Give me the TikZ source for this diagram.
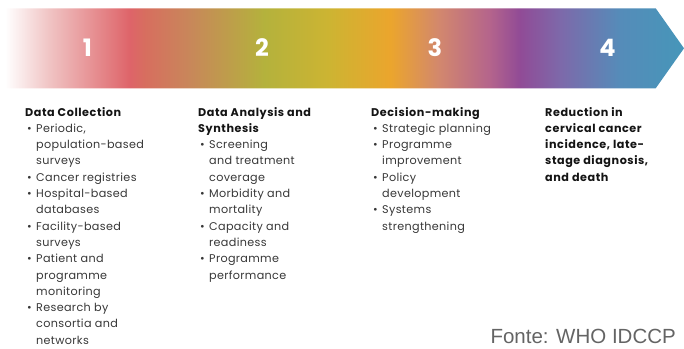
\documentclass[tikz,border=0pt]{standalone}
\usepackage{fontspec}
\setmainfont{Poppins}
\newfontfamily\bodyf[LetterSpace=3]{Poppins}
\newfontfamily\headf[LetterSpace=5]{Poppins}
\newfontfamily\arialf{Liberation Sans}
\pgfdeclarehorizontalshading{bandshade}{100bp}{%
color(0bp)=(white);
color(25bp)=(white);
color(28.3bp)=(rgb,255:red,240;green,195;blue,195);
color(34.2bp)=(rgb,255:red,222;green,100;blue,105);
color(35.3bp)=(rgb,255:red,215;green,110;blue,95);
color(38.6bp)=(rgb,255:red,200;green,135;blue,90);
color(44.1bp)=(rgb,255:red,180;green,178;blue,60);
color(48.9bp)=(rgb,255:red,205;green,180;blue,50);
color(53.4bp)=(rgb,255:red,235;green,165;blue,45);
color(57.0bp)=(rgb,255:red,210;green,135;blue,110);
color(60.7bp)=(rgb,255:red,180;green,100;blue,140);
color(62.9bp)=(rgb,255:red,145;green,75;blue,150);
color(65.9bp)=(rgb,255:red,125;green,105;blue,170);
color(70.3bp)=(rgb,255:red,85;green,140;blue,185);
color(75bp)=(rgb,255:red,70;green,150;blue,185);
color(100bp)=(rgb,255:red,70;green,150;blue,185)}
\definecolor{bodytxt}{RGB}{55,55,55}
\definecolor{headtxt}{RGB}{20,20,20}
\definecolor{fontegray}{RGB}{100,100,100}
\newcommand{\bul}{\makebox[9pt][l]{\textbullet}}
\newcommand{\ind}{\hspace*{9pt}}
\begin{document}
\begin{tikzpicture}[x=1pt,y=-1pt,
  txt/.style={anchor=base west,inner sep=0pt,font=\bodyf\fontsize{11.2}{12}\selectfont,text=bodytxt},
  head/.style={anchor=base west,inner sep=0pt,font=\headf\fontsize{11.2}{12}\selectfont\bfseries,text=headtxt},
  num/.style={text=white,font=\fontsize{24}{28}\selectfont\bfseries,inner sep=0pt}]
\useasboundingbox (0,0) rectangle (684,348);
\shade[shading=bandshade] (5,8.3) -- (655.7,8.3) -- (684,48.3) -- (655.7,88.3) -- (5,88.3) -- cycle;
\node[num] (n1) at (87.5,47.5) {1};
\node[num] (n2) at (262,47.5) {2};
\node[num] (n3) at (435,47.5) {3};
\node[num] (n4) at (607.5,47.5) {4};
% column 1
\node[head] (h1) at (25,116) {Data Collection};
\foreach \t [count=\i] in {\bul Periodic{,}, \ind population-based, \ind surveys, \bul Cancer registries, \bul Hospital-based, \ind databases, \bul Facility-based, \ind surveys, \bul Patient and, \ind programme, \ind monitoring, \bul Research by, \ind consortia and, \ind networks}
  \node[txt] (a\i) at (27,116+\i*16.3) {\t};
% column 2
\node[head] (h2a) at (198,116) {Data Analysis and};
\node[head] (h2b) at (198,132.3) {Synthesis};
\foreach \t [count=\i] in {\bul Screening, \ind and treatment, \ind coverage, \bul Morbidity and, \ind mortality, \bul Capacity and, \ind readiness, \bul Programme, \ind performance}
  \node[txt] (b\i) at (200,132.3+\i*16.3) {\t};
% column 3
\node[head] (h3) at (371,116) {Decision-making};
\foreach \t [count=\i] in {\bul Strategic planning, \bul Programme, \ind improvement, \bul Policy, \ind development, \bul Systems, \ind strengthening}
  \node[txt] (c\i) at (373,116+\i*16.3) {\t};
% column 4
\foreach \t [count=\i] in {Reduction in, cervical cancer, incidence{,} late-, stage diagnosis{,}, and death}
  \node[head] (d\i) at (545,116+\i*16.3-16.3) {\t};
\node[anchor=base east,inner sep=0pt,text=fontegray,font=\arialf\fontsize{20.5}{24}\selectfont] (src) at (676,343) {Fonte: WHO IDCCP};
\end{tikzpicture}
\end{document}
